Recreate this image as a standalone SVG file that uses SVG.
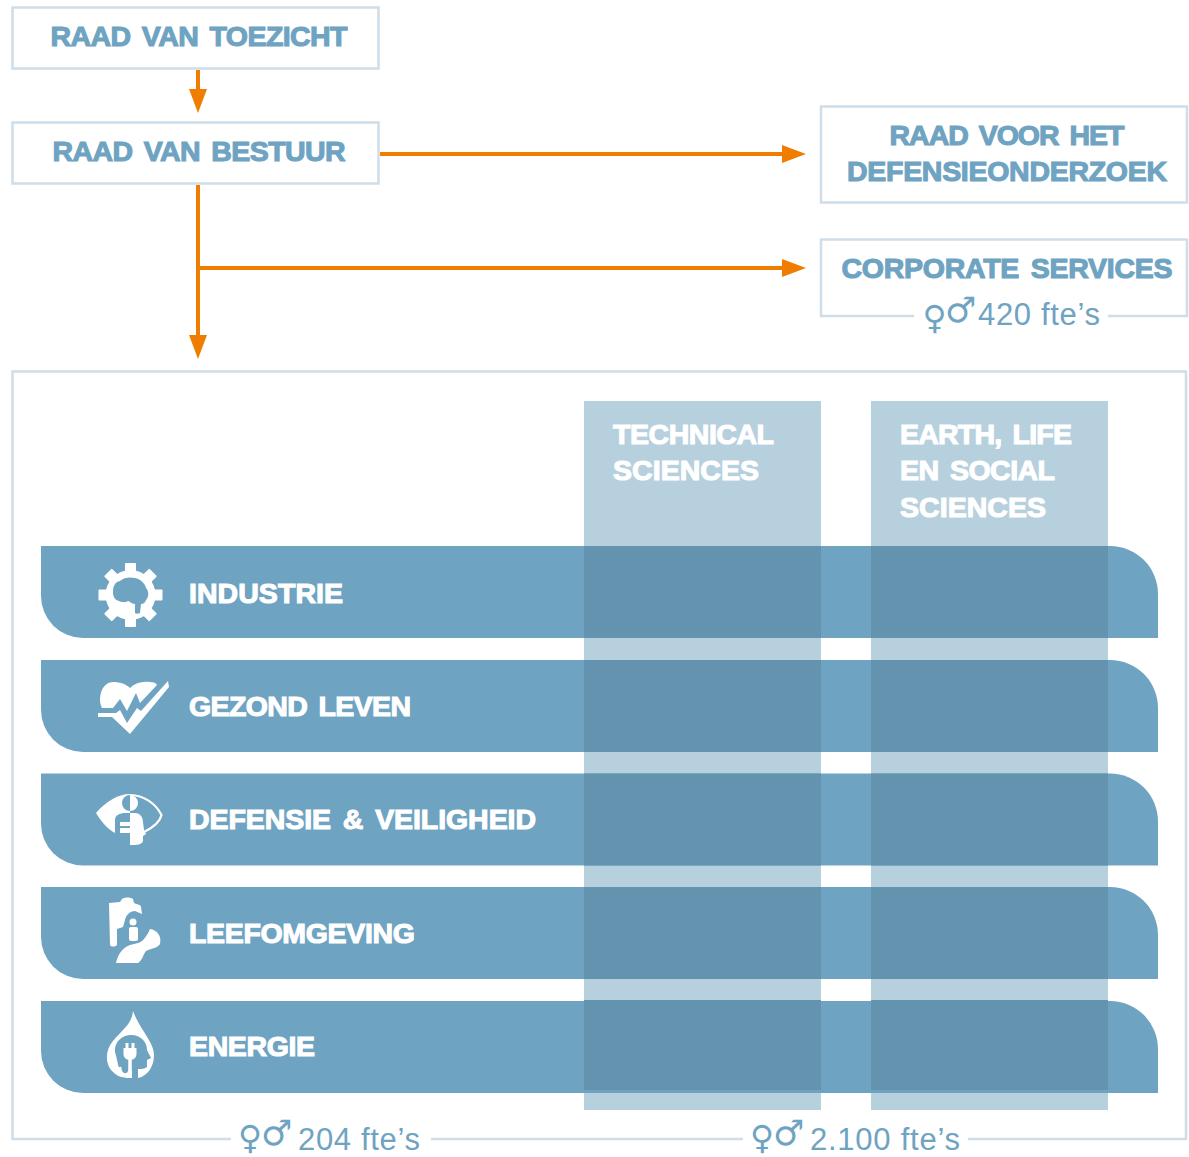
<svg xmlns="http://www.w3.org/2000/svg" width="1189" height="1157" viewBox="0 0 1189 1157">
<defs>
<marker id="ah" markerUnits="userSpaceOnUse" markerWidth="25" markerHeight="20" refX="4" refY="9" orient="auto"><path d="M0,0L24,9L0,18Z" fill="#ef7d00"/></marker>
<path id="band" d="M41,0H1110A48,48 0 0 1 1158,48V92H83A42,42 0 0 1 41,50Z"/>
<rect id="tooth" x="-5.500" y="-32" width="11" height="12" rx="1"/>
</defs>
<style>
.box{fill:none;stroke:#cfdde9;stroke-width:2.500}
.h{font-family:"Liberation Sans",Arial,sans-serif;font-weight:700;font-size:28.500px;fill:#6fa3c2;stroke:#6fa3c2;stroke-width:1.100;word-spacing:4px}
.w{fill:#fff;stroke:#fff}
.mid{text-anchor:middle}
.f{font-family:"Liberation Sans",Arial,sans-serif;font-size:31px;fill:#6fa3c2}
.gf{font-family:"DejaVu Sans",sans-serif;font-size:33px;fill:#6fa3c2}
.gm{font-family:"DejaVu Sans",sans-serif;font-size:35px;fill:#6fa3c2}
.conn{fill:none;stroke:#ef7d00;stroke-width:4;marker-end:url(#ah)}
.b{fill:#6fa3c2}
.o{fill:#6393ae}
.c{fill:#b7d0de}
.i{fill:#fff}
.ib{fill:#6fa3c2}
.cable{fill:none;stroke:#fff;stroke-width:3.500}
</style>

<g id="connectors">
<path class="conn" d="M198,70V93"/>
<path class="conn" d="M380,154H786"/>
<path class="conn" d="M198,185V339"/>
<path class="conn" d="M198,268H786"/>
</g>

<g id="raad-van-toezicht"><rect class="box" x="12.500" y="7.500" width="366" height="61"/><text class="h mid" x="199" y="46" textLength="297">RAAD VAN TOEZICHT</text></g>
<g id="raad-van-bestuur"><rect class="box" x="12.500" y="122.500" width="366" height="61"/><text class="h mid" x="199" y="161" textLength="293">RAAD VAN BESTUUR</text></g>
<g id="raad-voor-het-defensieonderzoek"><rect class="box" x="821" y="106.500" width="366" height="96"/><text class="h mid" x="1007" y="145" textLength="235">RAAD VOOR HET</text><text class="h mid" x="1007" y="181" textLength="320">DEFENSIEONDERZOEK</text></g>
<g id="corporate-services">
<path class="box" d="M914,316H821V239.500H1187V316H1108"/>
<text class="h mid" x="1007" y="278" textLength="331">CORPORATE SERVICES</text>
<text class="gf" x="922.500" y="329">♀</text><text class="gm" x="945" y="322">♂</text>
<text class="f" x="978" y="325" textLength="122">420 fte’s</text>
</g>

<g id="organisation">
<path class="box" d="M231,1139H12.500V371.500H1186V1139H968M743,1139H431"/>
<rect class="c" x="584" y="401" width="237" height="709"/>
<rect class="c" x="871" y="401" width="237" height="709"/>
<text class="h w" x="613" y="444" textLength="161">TECHNICAL</text>
<text class="h w" x="613" y="480" textLength="146">SCIENCES</text>
<text class="h w" x="900" y="444" textLength="172">EARTH, LIFE</text>
<text class="h w" x="900" y="480" textLength="155">EN SOCIAL</text>
<text class="h w" x="900" y="517" textLength="146">SCIENCES</text>
</g>

<g id="industrie">
<use href="#band" class="b" y="546"/>
<rect class="o" x="584" y="546" width="237" height="92"/><rect class="o" x="871" y="546" width="237" height="92"/>
<g transform="translate(130.500,595)" class="i"><circle r="25"/><use href="#tooth"/><use href="#tooth" transform="rotate(45)"/><use href="#tooth" transform="rotate(90)"/><use href="#tooth" transform="rotate(135)"/><use href="#tooth" transform="rotate(180)"/><use href="#tooth" transform="rotate(225)"/><use href="#tooth" transform="rotate(270)"/><use href="#tooth" transform="rotate(315)"/></g>
<path class="ib" d="M113,592C113,586 115,582 120,581C124,577 131,577 135,578C140,579 145,583 146,588C149,591 149,597 146,600C145,603 143,604 141,604L140,613C138,614 136,614 135,613L135,604C131,604 130,601 128,601C125,603 121,602 119,601C115,600 113,597 113,592Z"/>
<text class="h w" x="189" y="603" textLength="154">INDUSTRIE</text>
</g>

<g id="gezond-leven">
<use href="#band" class="b" y="660"/>
<rect class="o" x="584" y="660" width="237" height="92"/><rect class="o" x="871" y="660" width="237" height="92"/>
<path class="i" d="M102,708C97,698 102,682 113,682C120,682 126,684 130,688C135,683 142,681 150,682C154,682 156,683 157,685L140,703L136,693L127,711L120,699L113,708Z"/>
<path class="i" d="M98,713H116L120,710L127,723L137,708L141,711L168,681L169,687L130,734L112,717L98,717Z"/>
<text class="h w" x="189" y="716" textLength="222">GEZOND LEVEN</text>
</g>

<g id="defensie-en-veiligheid">
<use href="#band" class="b" y="773.500"/>
<rect class="o" x="584" y="773.500" width="237" height="92"/><rect class="o" x="871" y="773.500" width="237" height="92"/>
<path class="i" d="M96,813C105,802 118,794 130,794V833H115C107,829 101,821 96,813Z"/>
<path class="ib" d="M130,795A8,8 0 0 0 130,811ZM115,833V820C115,815 120,813 125,813H130V833Z"/>
<path class="i" d="M120,822H130V826H120ZM120,828H130V833H120Z"/>
<path class="i" d="M130,795A8,8 0 0 1 130,811ZM130,813H135C140,813 143,817 143,822L144,830L146,834L143,836V841C142,844 138,845 134,845H130Z"/>
<path d="M130,795C144,795 156,804 161.500,815C160,822 152,828 144,832" fill="none" stroke="#fff" stroke-width="2.200"/>
<text class="h w" x="189" y="829" textLength="347">DEFENSIE &amp; VEILIGHEID</text>
</g>

<g id="leefomgeving">
<use href="#band" class="b" y="887"/>
<rect class="o" x="584" y="887" width="237" height="92"/><rect class="o" x="871" y="887" width="237" height="92"/>
<path class="i" d="M109,903L120,902L122,899C125,897 130,897 133,899L134,903C137,905 141,904 141,907L142,914L135,911C130,911 126,915 125,920L123,927L117,929V945C115,947 111,947 110,945Z"/>
<circle class="i" cx="133" cy="922" r="3.500"/>
<rect class="i" x="129" y="927" width="9" height="14" rx="2"/>
<path class="i" d="M116,963C118,953 124,947 130,945L138,943C142,942 146,938 150,929C157,930 162,936 160,944C158,948 152,948 146,951C143,955 142,961 138,963Z"/>
<text class="h w" x="189" y="943" textLength="226">LEEFOMGEVING</text>
</g>

<g id="energie">
<use href="#band" class="b" y="1001"/>
<rect class="o" x="584" y="1000" width="237" height="90"/><rect class="o" x="871" y="1000" width="237" height="90"/>
<path class="i" d="M133,1011C132,1024 122,1030 113,1041C105,1050 105,1064 112,1071C117,1076 121,1078 130,1078H138C148,1076 154,1066 154,1055C154,1042 140,1030 133,1011Z"/>
<path class="ib" d="M115,1052C114,1041 123,1035 131,1035C141,1035 147,1042 147,1050L151,1058L147,1060V1066C147,1068 144,1069 140,1069H138V1079H132V1066C132,1074 127,1078 123,1076C119,1074 119,1066 115,1052Z"/>
<path class="cable" d="M130,1059V1069C130,1073 128,1075 125,1075C122,1075 120,1073 119.500,1067"/>
<path class="i" d="M125.500,1043H128.500V1048H131.500V1043H134.500V1048H136.500V1054C136.500,1057 134,1060 130,1060C126,1060 123.500,1057 123.500,1054V1048H125.500Z"/>
<text class="h w" x="189" y="1056" textLength="126">ENERGIE</text>
</g>

<g id="fte-left"><text class="gf" x="238" y="1149">♀</text><text class="gm" x="261" y="1145">♂</text><text class="f" x="298" y="1150" textLength="122">204 fte’s</text></g>
<g id="fte-right"><text class="gf" x="750" y="1149">♀</text><text class="gm" x="773" y="1145">♂</text><text class="f" x="810" y="1150" textLength="150">2.100 fte’s</text></g>
</svg>
